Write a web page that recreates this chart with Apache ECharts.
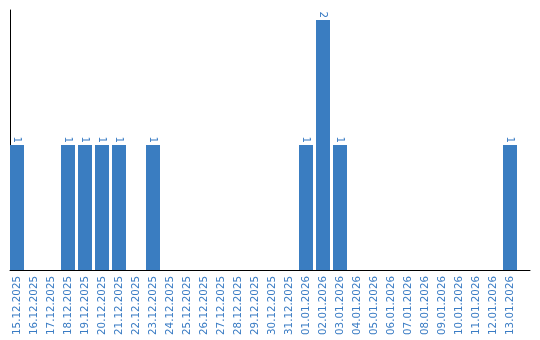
<!DOCTYPE html>
<html><head><meta charset="utf-8">
<script src="https://cdn.jsdelivr.net/npm/echarts@6/dist/echarts.min.js"></script>
<style>html,body{margin:0;padding:0;background:#fff}#c{width:540px;height:340px}</style>
</head><body><div id="c"></div>
<script>
const categories = ["15.12.2025","16.12.2025","17.12.2025","18.12.2025","19.12.2025","20.12.2025","21.12.2025","22.12.2025","23.12.2025","24.12.2025","25.12.2025","26.12.2025","27.12.2025","28.12.2025","29.12.2025","30.12.2025","31.12.2025","01.01.2026","02.01.2026","03.01.2026","04.01.2026","05.01.2026","06.01.2026","07.01.2026","08.01.2026","09.01.2026","10.01.2026","11.01.2026","12.01.2026","13.01.2026"];
const values = [1,0,0,1,1,1,1,0,1,0,0,0,0,0,0,0,0,1,2,1,0,0,0,0,0,0,0,0,0,1];
const yMax = 2.08;
const blue = '#3a7dc1';
const textBlue = '#3a7cc4';
const font = 'DejaVu Sans';

const chart = echarts.init(document.getElementById('c'));
chart.setOption({
  animation: false,
  grid: [
    {left: 10, right: 10, top: 10, bottom: 70},
    {left: 8.5, width: 510, top: 10, bottom: 70}
  ],
  xAxis: [
    {gridIndex: 0, type: 'value', min: 0, max: 1, axisLine: {show: true, lineStyle: {color: '#000', width: 1}}, axisTick: {show: false}, axisLabel: {show: false}, splitLine: {show: false}},
    {gridIndex: 1, type: 'category', data: categories, axisLine: {show: false}, axisTick: {show: false}, splitLine: {show: false},
     axisLabel: {rotate: 90, interval: 0, margin: 6, color: textBlue, fontFamily: font, fontSize: 10.3}}
  ],
  yAxis: [
    {gridIndex: 0, type: 'value', min: 0, max: yMax, axisLine: {show: true, lineStyle: {color: '#000', width: 1}}, axisTick: {show: false}, axisLabel: {show: false}, splitLine: {show: false}},
    {gridIndex: 1, type: 'value', min: 0, max: yMax, show: false, splitLine: {show: false}}
  ],
  series: [{
    type: 'bar', xAxisIndex: 1, yAxisIndex: 1,
    data: values.map(v => v === 0 ? null : v),
    barWidth: 14,
    itemStyle: {color: blue},
    label: {show: true, position: 'top', rotate: -90, align: 'right', verticalAlign: 'middle', distance: 2,
            color: textBlue, fontFamily: font, fontSize: 10.3}
  }]
});
</script></body></html>
